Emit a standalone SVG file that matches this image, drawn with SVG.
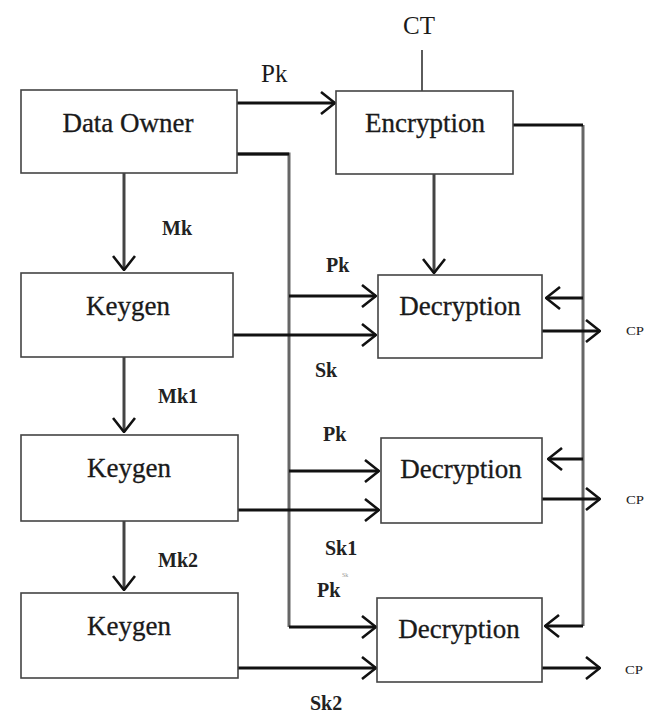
<svg xmlns="http://www.w3.org/2000/svg" width="655" height="715" viewBox="0 0 655 715">
<defs>
<marker id="ah" viewBox="0 0 16 24" refX="15" refY="12" markerWidth="16" markerHeight="24" markerUnits="userSpaceOnUse" orient="auto">
<path d="M1,1 L15,12 L1,23" fill="none" stroke="#111" stroke-width="2.6"/>
</marker>
</defs>
<style>
.box{fill:#fff;stroke:#444;stroke-width:1.6}
.title{font-family:"Liberation Serif","Times New Roman",serif;font-size:27px;fill:#1a1a1a;text-anchor:middle;stroke:#1a1a1a;stroke-width:0.3}
.lbl{font-family:"Liberation Serif","Times New Roman",serif;font-size:20px;font-weight:bold;fill:#222}
.big{font-family:"Liberation Serif","Times New Roman",serif;font-size:25px;fill:#1a1a1a}
.cp{font-family:"Liberation Serif","Times New Roman",serif;font-size:13px;fill:#222}
.ar{fill:none;stroke:#111;stroke-width:3;marker-end:url(#ah)}
.ln{fill:none;stroke:#111;stroke-width:3}
.bus{fill:none;stroke:#666;stroke-width:3}
.thin{fill:none;stroke:#333;stroke-width:1.6}
</style>
<rect width="655" height="715" fill="#fff"/>
<g id="connectors">
<line class="thin" x1="422" y1="50" x2="422" y2="91"/>
<path class="ar" d="M237,103 H335"/>
<path class="bus" d="M237,154 H289 V627"/>
<path class="ln" d="M237,154 H289"/>
<path class="ar" d="M289,627 H376"/>
<path class="ar" d="M289,296 H376"/>
<path class="ar" d="M289,471 H379"/>
<path class="bus" d="M583,125 V626"/>
<path class="ln" d="M513,125 H583"/>
<path class="ar" d="M583,626 H545"/>
<path class="ar" d="M583,298 H546"/>
<path class="ar" d="M583,459 H548"/>
<path class="ar" d="M434,174 V273" style="stroke:#444"/>
<path class="ar" d="M124,173 V270" style="stroke:#444"/>
<path class="ar" d="M124,357 V432" style="stroke:#444"/>
<path class="ar" d="M124,521 V590" style="stroke:#444"/>
<path class="ar" d="M233,335 H376"/>
<path class="ar" d="M238,510 H379"/>
<path class="ar" d="M238,668 H376"/>
<path class="ar" d="M542,331 H600"/>
<path class="ar" d="M542,499 H600"/>
<path class="ar" d="M542,668 H600"/>
</g>
<g id="labels">
<text class="big" x="419" y="34" text-anchor="middle">CT</text>
<text class="big" x="261" y="82">Pk</text>
<text class="lbl" x="162" y="235">Mk</text>
<text class="lbl" x="158" y="403">Mk1</text>
<text class="lbl" x="158" y="567">Mk2</text>
<text class="lbl" x="326" y="272">Pk</text>
<text class="lbl" x="315" y="377">Sk</text>
<text class="lbl" x="323" y="441">Pk</text>
<text class="lbl" x="325" y="555">Sk1</text>
<text class="lbl" x="317" y="597">Pk</text>
<text x="342" y="577" font-family="Liberation Serif, serif" font-size="6" fill="#999">Sk</text>
<text class="lbl" x="310" y="710">Sk2</text>
<text class="cp" x="626" y="335" textLength="18" lengthAdjust="spacingAndGlyphs">CP</text>
<text class="cp" x="626" y="504" textLength="18" lengthAdjust="spacingAndGlyphs">CP</text>
<text class="cp" x="625" y="674" textLength="18" lengthAdjust="spacingAndGlyphs">CP</text>
</g>
<g id="data-owner"><rect class="box" x="21" y="90" width="216" height="83"/><text class="title" x="128" y="132">Data Owner</text></g>
<g id="encryption"><rect class="box" x="336" y="91" width="177" height="83"/><text class="title" x="425" y="132">Encryption</text></g>
<g id="keygen1"><rect class="box" x="21" y="273" width="212" height="84"/><text class="title" x="128" y="315">Keygen</text></g>
<g id="keygen2"><rect class="box" x="21" y="435" width="217" height="86"/><text class="title" x="129" y="477">Keygen</text></g>
<g id="keygen3"><rect class="box" x="21" y="593" width="217" height="85"/><text class="title" x="129" y="635">Keygen</text></g>
<g id="decryption1"><rect class="box" x="378" y="275" width="164" height="83"/><text class="title" x="460" y="315">Decryption</text></g>
<g id="decryption2"><rect class="box" x="381" y="438" width="161" height="85"/><text class="title" x="461" y="478">Decryption</text></g>
<g id="decryption3"><rect class="box" x="377" y="598" width="165" height="84"/><text class="title" x="459" y="638">Decryption</text></g>
</svg>
